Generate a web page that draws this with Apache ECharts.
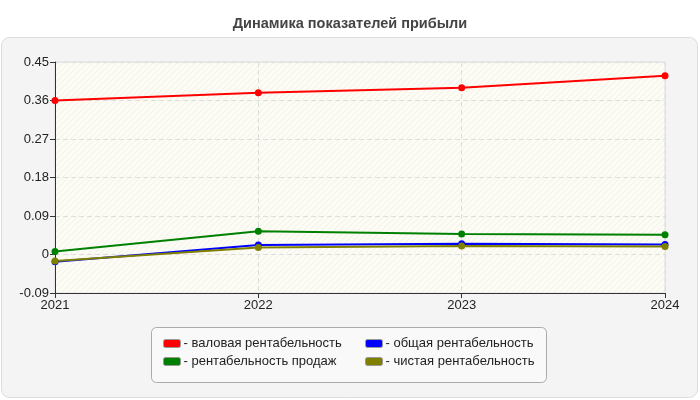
<!DOCTYPE html>
<html><head><meta charset="utf-8">
<script src="https://cdn.jsdelivr.net/npm/echarts@6/dist/echarts.min.js"></script>
<style>html,body{margin:0;padding:0;background:#fff}#c{width:700px;height:400px}</style>
</head><body><div id="c"></div>
<script>
var categories = ['2021', '2022', '2023', '2024'];
var grossMargin = [0.360, 0.378, 0.390, 0.418];
var salesMargin = [0.007, 0.0545, 0.048, 0.046];
var totalMargin = [-0.017, 0.022, 0.025, 0.0235];
var netMargin = [-0.015, 0.0165, 0.020, 0.0187];
var seriesNames = ['валовая рентабельность', 'общая рентабельность', 'рентабельность продаж', 'чистая рентабельность'];
var yTicks = [-0.09, 0, 0.09, 0.18, 0.27, 0.36, 0.45];
var titleText = 'Динамика показателей прибыли';

var pc = document.createElement('canvas');
pc.width = 6; pc.height = 6;
var g = pc.getContext('2d');
g.fillStyle = '#fcfcf5'; g.fillRect(0, 0, 6, 6);
g.strokeStyle = '#f1f1ea'; g.lineWidth = 1;
g.beginPath(); g.moveTo(0, 6); g.lineTo(6, 0); g.moveTo(-3, 3); g.lineTo(3, -3); g.moveTo(3, 9); g.lineTo(9, 3); g.stroke();

var chart = echarts.init(document.getElementById('c'), null, {renderer: 'canvas'});
var font = 'Liberation Sans, Arial, sans-serif';
function mk(name, data, color) {
  return {
    name: name, type: 'line', data: data, symbol: 'circle', symbolSize: 7,
    lineStyle: {width: 2, color: color}, itemStyle: {color: color, borderColor: '#888', borderWidth: 0},
    emphasis: {disabled: true}, animation: false
  };
}
var legendBase = {
  orient: 'vertical', itemWidth: 17, itemHeight: 8, itemGap: 3, icon: 'roundRect',
  formatter: function (n) { return '- ' + n; },
  textStyle: {fontFamily: font, fontSize: 13, color: '#222', padding: [0, 0, 0, -2], lineHeight: 15},
  itemStyle: {borderColor: '#999', borderWidth: 1}, selectedMode: false, padding: 0
};
chart.setOption({
  backgroundColor: '#ffffff',
  animation: false,
  title: {text: titleText, left: 'center', top: 11, textStyle: {fontFamily: font, fontSize: 14.5, fontWeight: 'bold', color: '#444'}},
  graphic: [
    {type: 'rect', z: -10, shape: {x: 1.5, y: 37.5, width: 696, height: 360, r: 8}, style: {fill: '#f4f4f4', stroke: '#dcdcdc', lineWidth: 1}},
    {type: 'rect', z: -5, shape: {x: 151.5, y: 327.5, width: 395, height: 55, r: 5}, style: {fill: '#f9f9f9', stroke: '#aaaaaa', lineWidth: 1}}
  ],
  legend: [
    Object.assign({}, legendBase, {left: 163, top: 336, data: [seriesNames[0], seriesNames[2]]}),
    Object.assign({}, legendBase, {left: 365, top: 336, data: [seriesNames[1], seriesNames[3]]})
  ],
  grid: {left: 55, right: 35, top: 62, bottom: 107, show: true, backgroundColor: {image: pc, repeat: 'repeat'}, borderColor: '#dddddd', borderWidth: 1},
  xAxis: {
    type: 'category', data: categories, boundaryGap: false,
    axisLine: {onZero: false, lineStyle: {color: '#333', width: 1}},
    axisTick: {show: true, alignWithLabel: true, length: 5, lineStyle: {color: '#333'}},
    axisLabel: {fontFamily: font, fontSize: 13, color: '#222', margin: 6},
    splitLine: {show: true, lineStyle: {color: '#dddddd', type: [5, 3]}}
  },
  yAxis: {
    type: 'value', min: yTicks[0], max: yTicks[yTicks.length - 1], interval: 0.09,
    axisLine: {show: true, onZero: false, lineStyle: {color: '#333', width: 1}},
    axisTick: {show: true, length: 5, lineStyle: {color: '#333'}},
    axisLabel: {fontFamily: font, fontSize: 13, color: '#222', margin: 6, formatter: function (v) { return String(+v.toFixed(2)); }},
    splitLine: {show: true, lineStyle: {color: '#dddddd', type: [5, 3]}}
  },
  series: [
    mk(seriesNames[0], grossMargin, '#ff0000'),
    mk(seriesNames[2], salesMargin, '#008000'),
    mk(seriesNames[1], totalMargin, '#0000ff'),
    mk(seriesNames[3], netMargin, '#808000')
  ]
});
</script></body></html>
